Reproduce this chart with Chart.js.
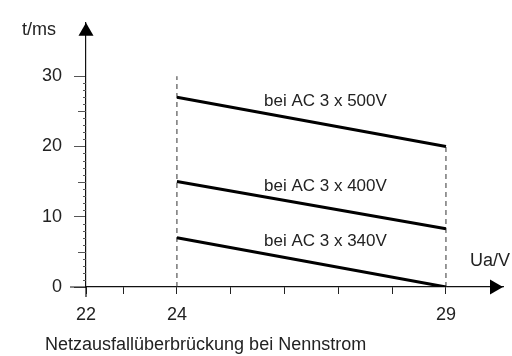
<!DOCTYPE html>
<html>
<head>
<meta charset="utf-8">
<script src="https://cdn.jsdelivr.net/npm/chart.js@4/dist/chart.umd.min.js"></script>
<style>
  html, body { margin: 0; padding: 0; background: #fff; }
  canvas { display: block; }
</style>
</head>
<body>
<canvas id="c" width="512" height="356"></canvas>
<script>
// ---- data ----
const xValues = [24, 29];              // Ua/V
const t500 = [27, 20];                 // t/ms at AC 3 x 500V
const t400 = [15, 8.3];                // t/ms at AC 3 x 400V
const t340 = [7, 0];                   // t/ms at AC 3 x 340V
const seriesLabels = ['bei AC 3 x 500V', 'bei AC 3 x 400V', 'bei AC 3 x 340V'];
const xTicks = [22, 23, 24, 25, 26, 27, 28, 29];
const xTickLabels = ['22', '', '24', '', '', '', '', '29'];
const yTicks = [0, 10, 20, 30];
const yTickLabels = ['0', '10', '20', '30'];
const guideX = [24, 29];               // dashed guides
const guideTop = [30, 20];
const xTitle = 'Ua/V';
const yTitle = 't/ms';
const caption = 'Netzausfallüberbrückung bei Nennstrom';

// ---- layout / style (not data) ----
const X_MIN = 22.31, X_MAX = 30.06, Y_MIN = 0, Y_MAX = 37.6;
const FONT = '"Liberation Sans", Arial, Helvetica, sans-serif';
const TXT = '#222';
const labelAnchors = [[26.76, 26.4], [26.76, 14.4], [26.76, 6.5]];

const pts = (ys) => xValues.map((x, i) => ({ x: x, y: ys[i] }));
const lineDs = (ys) => ({ data: pts(ys), showLine: true, borderColor: '#000', borderWidth: 3,
  pointRadius: 0, fill: false, borderCapStyle: 'butt' });
const guideDs = (i) => ({ data: [{ x: guideX[i], y: 0 }, { x: guideX[i], y: guideTop[i] }],
  showLine: true, borderColor: '#333', borderWidth: 1, borderDash: [5, 4], pointRadius: 0 });

const decor = {
  id: 'decor',
  afterDraw(chart) {
    const ctx = chart.ctx, xs = chart.scales.x, ys = chart.scales.y;
    const x0 = xs.getPixelForValue(X_MIN), y0 = ys.getPixelForValue(0);
    const xe = xs.getPixelForValue(X_MAX), ye = ys.getPixelForValue(Y_MAX);
    ctx.save();
    ctx.strokeStyle = '#111'; ctx.lineWidth = 1.2;
    // axis extensions
    ctx.beginPath();
    ctx.moveTo(x0 - 16, y0); ctx.lineTo(x0, y0);
    ctx.moveTo(x0, y0); ctx.lineTo(x0, y0 + 10);
    ctx.stroke();
    // minor y ticks
    ctx.strokeStyle = '#555'; ctx.lineWidth = 1;
    for (let v = 1; v < 31; v++) {
      if (v % 10 === 0) continue;
      const len = (v % 5 === 0) ? 8 : 3;
      const py = Math.round(ys.getPixelForValue(v)) + 0.5;
      ctx.beginPath(); ctx.moveTo(x0 - len, py); ctx.lineTo(x0, py); ctx.stroke();
    }
    // arrows
    ctx.fillStyle = '#000';
    ctx.beginPath();
    ctx.moveTo(x0, ye); ctx.lineTo(x0 - 7.5, ye + 13); ctx.lineTo(x0 + 7.5, ye + 13); ctx.closePath(); ctx.fill();
    ctx.beginPath();
    ctx.moveTo(xe, y0); ctx.lineTo(xe - 13, y0 - 7.5); ctx.lineTo(xe - 13, y0 + 7.5); ctx.closePath(); ctx.fill();
    // texts
    ctx.fillStyle = TXT;
    ctx.textBaseline = 'middle';
    ctx.font = '17px ' + FONT;
    ctx.textAlign = 'center';
    seriesLabels.forEach((s, i) => {
      ctx.fillText(s, xs.getPixelForValue(labelAnchors[i][0]), ys.getPixelForValue(labelAnchors[i][1]));
    });
    ctx.font = '18px ' + FONT;
    ctx.textAlign = 'left';
    ctx.fillText(yTitle, 22, ye + 7);
    ctx.fillText(xTitle, 470, y0 - 26);
    ctx.fillText(caption, 45, y0 + 58);
    ctx.restore();
  }
};

new Chart(document.getElementById('c'), {
  type: 'scatter',
  data: { datasets: [lineDs(t500), lineDs(t400), lineDs(t340), guideDs(0), guideDs(1)] },
  options: {
    responsive: false,
    animation: false,
    devicePixelRatio: 1,
    layout: { padding: { left: 0, right: 9, top: 16, bottom: 0 } },
    plugins: { legend: { display: false }, tooltip: { enabled: false } },
    scales: {
      x: {
        type: 'linear', min: X_MIN, max: X_MAX,
        afterBuildTicks(s) { s.ticks = xTicks.map(v => ({ value: v === 22 ? X_MIN : v })); },
        afterFit(s) { s.height = 69; },
        ticks: {
          autoSkip: false, maxRotation: 0, padding: 10, color: TXT,
          font: { family: FONT, size: 18 },
          callback(v, i) { return xTickLabels[i]; }
        },
        grid: { drawOnChartArea: false, drawTicks: true, tickLength: 7, color: '#222', lineWidth: 1 },
        border: { display: true, color: '#111', width: 1.2 }
      },
      y: {
        type: 'linear', min: Y_MIN, max: Y_MAX,
        afterBuildTicks(s) { s.ticks = yTicks.map(v => ({ value: v })); },
        afterFit(s) { s.width = 86; },
        ticks: {
          autoSkip: false, padding: 12, color: TXT,
          font: { family: FONT, size: 18 },
          callback(v, i) { return yTickLabels[i]; }
        },
        grid: { drawOnChartArea: false, drawTicks: true, tickLength: 12, color: '#555', lineWidth: 1 },
        border: { display: true, color: '#111', width: 1.2 }
      }
    }
  },
  plugins: [decor]
});
</script>
</body>
</html>
